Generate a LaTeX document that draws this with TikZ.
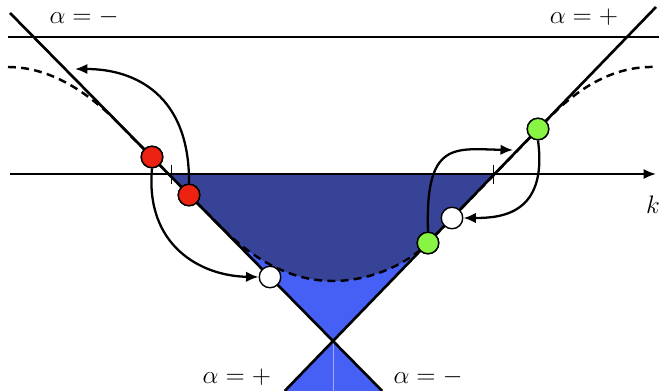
\documentclass[tikz,border=0pt]{standalone}
\usepackage{amsmath,amssymb}
\usepackage{tikz}
\usetikzlibrary{arrows.meta}
\usepackage{xcolor}
\definecolor{darkband}{RGB}{55,67,151}
\definecolor{lightband}{RGB}{70,96,246}
\definecolor{dotred}{RGB}{238,34,17}
\definecolor{dotgreen}{RGB}{136,245,68}

\begin{document}
\begin{tikzpicture}[x=0.02cm,y=-0.02cm,font=\fontsize{14}{16}\selectfont,>={Latex[length=2.5mm,width=2.1mm]},
  dot/.style={circle,draw,line width=0.8pt,minimum size=4.3mm,inner sep=0pt},
  reddot/.style={dot,fill=dotred},
  greendot/.style={dot,fill=dotgreen},
  holedot/.style={dot,fill=white},
  branch/.style={line width=1.5pt},
  level/.style={line width=1.4pt,dash pattern=on 4.5pt off 3pt},
  hop/.style={->,line width=1.3pt},
  lab/.style={inner sep=0pt}]
  \useasboundingbox (0,0) rectangle (659,391);
  % bands
  \fill[lightband] (168.5,174) -- (494.5,174) -- (333,341) -- cycle;
  \fill[lightband] (333,341) -- (284.7,391) -- (382.2,391) -- cycle;
  \draw[blue!35!white,line width=0.4pt] (333,341) -- (333,391);
  \fill[darkband] (168.5,174) -- (494.5,174) -- (428,243)
    .. controls (405,266) and (368,281) .. (333,281)
    .. controls (300,281) and (262,268) .. (222,228) -- cycle;
  % dashed level
  \draw[level] (8,67) .. controls (55,67) and (95,98) .. (125,130) -- (222,228)
    .. controls (262,268) and (300,281) .. (333,281)
    .. controls (368,281) and (405,266) .. (428,243) -- (548,119)
    .. controls (580,86) and (615,66) .. (655,67);
  % lines and axis
  \draw[line width=0.6pt] (8,37) -- (659,37);
  \draw[branch] (10,13) -- (382.2,391);
  \draw[branch] (656,7) -- (284.7,391);
  \draw[->,line width=1.5pt] (10,174) -- (656,174);
  \draw[line width=0.4pt] (171,165) -- (171,184);
  \draw[line width=0.4pt] (493,165) -- (493,184);
  % labels
  \node[lab] (lm) at (84,17) {$\alpha=-$};
  \node[lab] (rp) at (584,17) {$\alpha=+$};
  \node[lab] (bp) at (237,377) {$\alpha=+$};
  \node[lab] (bm) at (428,377) {$\alpha=-$};
  \node[lab] (kl) at (653,205) {$k$};
  % states
  \node[reddot] (r1) at (152,157) {};
  \node[reddot] (r2) at (189,195) {};
  \node[holedot] (w1) at (270,277) {};
  \node[holedot] (w2) at (452,218) {};
  \node[greendot] (g2) at (428,243) {};
  \node[greendot] (g1) at (538,129) {};
  \coordinate (a1) at (75,69);
  \coordinate (a3) at (513,150);
  % hops
  \draw[hop] (r2.north) .. controls (190,95) and (135,69) .. (a1);
  \draw[hop] (r1.south) .. controls (145,245) and (200,276) .. (w1.west);
  \draw[hop] (g2.north) .. controls (425,140) and (455,149) .. (a3);
  \draw[hop] (g1.south) .. controls (548,215) and (500,218) .. (w2.east);
  \node[reddot] at (r1) {};
  \node[reddot] at (r2) {};
  \node[greendot] at (g1) {};
  \node[greendot] at (g2) {};
\end{tikzpicture}
\end{document}
